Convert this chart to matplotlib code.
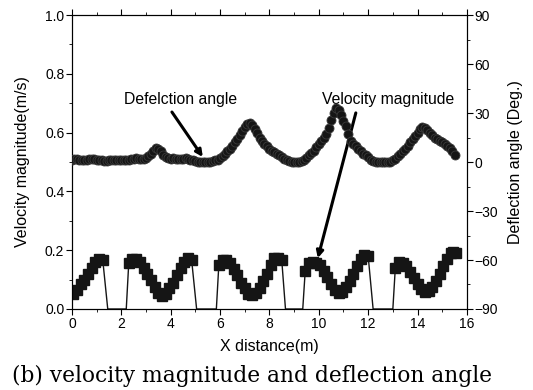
import numpy as np
import matplotlib
matplotlib.use("Agg")
import matplotlib.pyplot as plt
from matplotlib.ticker import MultipleLocator

# ---- data ----
vel_x = [0.05, 0.2, 0.35, 0.5, 0.65, 0.8, 0.95, 1.1, 1.25, 1.45, 2.2,
         2.3, 2.45, 2.6, 2.75, 2.9, 3.05, 3.2, 3.35, 3.5, 3.65, 3.8, 3.95, 4.1, 4.25, 4.4, 4.55, 4.7, 4.85, 5.05, 5.85,
         5.95, 6.1, 6.25, 6.4, 6.55, 6.7, 6.85, 7.0, 7.15, 7.3, 7.45, 7.6, 7.75, 7.9, 8.05, 8.2, 8.35, 8.5, 8.65, 9.35,
         9.45, 9.6, 9.75, 9.9, 10.05, 10.2, 10.35, 10.5, 10.65, 10.8, 10.95, 11.1, 11.25, 11.4, 11.55, 11.7, 11.85, 12.0, 12.2, 13.0,
         13.1, 13.25, 13.4, 13.55, 13.7, 13.85, 14.0, 14.15, 14.3, 14.45, 14.6, 14.75, 14.9, 15.05, 15.2, 15.35, 15.45, 15.55]
vel_v = [0.05, 0.065, 0.085, 0.10, 0.12, 0.14, 0.16, 0.17, 0.165, 0.0, 0.0,
         0.155, 0.17, 0.17, 0.16, 0.14, 0.12, 0.10, 0.075, 0.055, 0.045, 0.05, 0.07, 0.09, 0.115, 0.14, 0.16, 0.172, 0.165, 0.0, 0.0,
         0.15, 0.168, 0.165, 0.155, 0.135, 0.115, 0.09, 0.07, 0.052, 0.048, 0.055, 0.07, 0.095, 0.12, 0.15, 0.172, 0.175, 0.165, 0.0, 0.0,
         0.13, 0.155, 0.16, 0.158, 0.15, 0.13, 0.11, 0.085, 0.065, 0.055, 0.058, 0.075, 0.095, 0.12, 0.145, 0.17, 0.185, 0.18, 0.0, 0.0,
         0.14, 0.16, 0.158, 0.145, 0.125, 0.105, 0.085, 0.068, 0.058, 0.062, 0.075, 0.095, 0.12, 0.145, 0.17, 0.19, 0.195, 0.19]

ang_x = [round(0.1 * i, 1) for i in range(156)]
ang_v = [1.5, 2.0, 1.8, 1.5, 1.2, 1.0, 1.3, 1.8, 2.0, 1.8,
         1.5, 1.2, 1.0, 0.8, 0.8, 1.0, 1.2, 1.5, 1.5, 1.2,
         1.0, 1.0, 1.2, 1.5, 1.8, 2.0, 2.2, 2.0, 1.8, 2.0,
         2.5, 3.5, 5.0, 7.0, 8.5, 8.0, 6.5, 4.5, 3.0, 2.2,
         2.0, 2.2, 2.0, 2.0, 1.8, 2.0, 2.2, 2.0, 1.5, 1.0,
         0.5, 0.2, 0.0, -0.3, 0.0, 0.3, 0.2, 0.5, 1.0, 1.5,
         2.5, 3.5, 5.0, 6.5, 8.0, 10.0, 12.0, 14.0, 16.5, 19.0,
         21.5, 23.5, 24.0, 22.5, 20.0, 17.5, 15.0, 13.0, 11.0, 9.5,
         8.0, 7.0, 6.0, 5.0, 4.0, 3.0, 2.0, 1.2, 0.5, 0.0,
         0.0, 0.0, 0.2, 0.8, 1.5, 2.5, 4.0, 5.5, 7.0, 9.0,
         11.0, 13.0, 15.0, 17.0, 21.0, 26.0, 30.0, 33.0, 32.0, 29.0,
         25.0, 22.0, 17.0, 13.0, 11.0, 9.5, 8.0, 6.5, 5.0, 4.0,
         3.0, 1.5, 0.8, 0.3, 0.0, 0.0, 0.0, 0.0, 0.0, 0.3,
         1.0, 2.0, 3.5, 5.0, 6.5, 8.0, 10.0, 12.0, 14.0, 16.0,
         18.0, 20.0, 21.5, 21.0, 19.5, 18.0, 16.5, 15.0, 14.0, 13.0,
         12.0, 11.0, 10.0, 8.5, 7.0, 4.5]

x_ticks = [0, 2, 4, 6, 8, 10, 12, 14, 16]
y_left_ticks = [0.0, 0.2, 0.4, 0.6, 0.8, 1.0]
y_right_ticks = [-90, -60, -30, 0, 30, 60, 90]

plt.rcParams['font.family'] = ['Liberation Sans', 'DejaVu Sans']

fig = plt.figure(figsize=(5.33, 3.9), dpi=100)
ax = fig.add_axes([0.135, 0.2077, 0.741, 0.7538])
ax2 = ax.twinx()

col = '#151515'
ax.plot(vel_x, vel_v, '-', color=col, lw=1.0, zorder=2)
vx = [x for x, v in zip(vel_x, vel_v) if v > 0]
vv = [v for v in vel_v if v > 0]
ax.plot(vx, vv, 's', color=col, ms=6.5, zorder=3)

ax2.plot(ang_x, ang_v, 'o', color=col, ms=6.5, mec='#3a3a3a', mew=0.6, zorder=3)

ax.set_xlim(0, 16)
ax.set_ylim(0, 1.0)
ax2.set_ylim(-90, 90)
ax.set_xticks(x_ticks)
ax.set_yticks(y_left_ticks)
ax.set_yticklabels(['%.1f' % t for t in y_left_ticks])
ax2.set_yticks(y_right_ticks)
ax.xaxis.set_minor_locator(MultipleLocator(1))
ax.yaxis.set_minor_locator(MultipleLocator(0.1))
ax2.yaxis.set_minor_locator(MultipleLocator(15))

ax.tick_params(axis='both', which='major', direction='out', length=4, width=0.8, labelsize=10, pad=1.5)
ax.tick_params(axis='both', which='minor', direction='out', length=2, width=0.6)
ax.tick_params(axis='x', top=True, which='both')
ax2.tick_params(axis='y', which='major', direction='out', length=4, width=0.8, labelsize=10, pad=1.5)
ax2.tick_params(axis='y', which='minor', direction='out', length=2, width=0.6)
for a in (ax, ax2):
    for s in a.spines.values():
        s.set_linewidth(0.8)

ax.set_xlabel('X distance(m)', fontsize=11.5, labelpad=6)
ax.set_ylabel('Velocity magnitude(m/s)', fontsize=11.5, labelpad=11)
ax2.set_ylabel('Deflection angle (Deg.)', fontsize=11.5, labelpad=7)

ax.text(4.38, 0.711, 'Defelction angle', ha='center', va='center', fontsize=11.3)
ax.annotate('', xy=(5.3, 0.517), xytext=(4.05, 0.67),
            arrowprops=dict(arrowstyle='-|>', color='black', lw=2.2, shrinkA=0, shrinkB=0,
                            mutation_scale=10))
ax.text(12.8, 0.711, 'Velocity magnitude', ha='center', va='center', fontsize=11.3)
ax.annotate('', xy=(9.96, 0.173), xytext=(11.5, 0.667),
            arrowprops=dict(arrowstyle='-|>', color='black', lw=2.2, shrinkA=0, shrinkB=0,
                            mutation_scale=10))

fig.text(0.473, 0.036, '(b) velocity magnitude and deflection angle',
         family=['DejaVu Serif'], fontsize=15.7, ha='center', va='center')

fig.savefig('out.png', dpi=100)
